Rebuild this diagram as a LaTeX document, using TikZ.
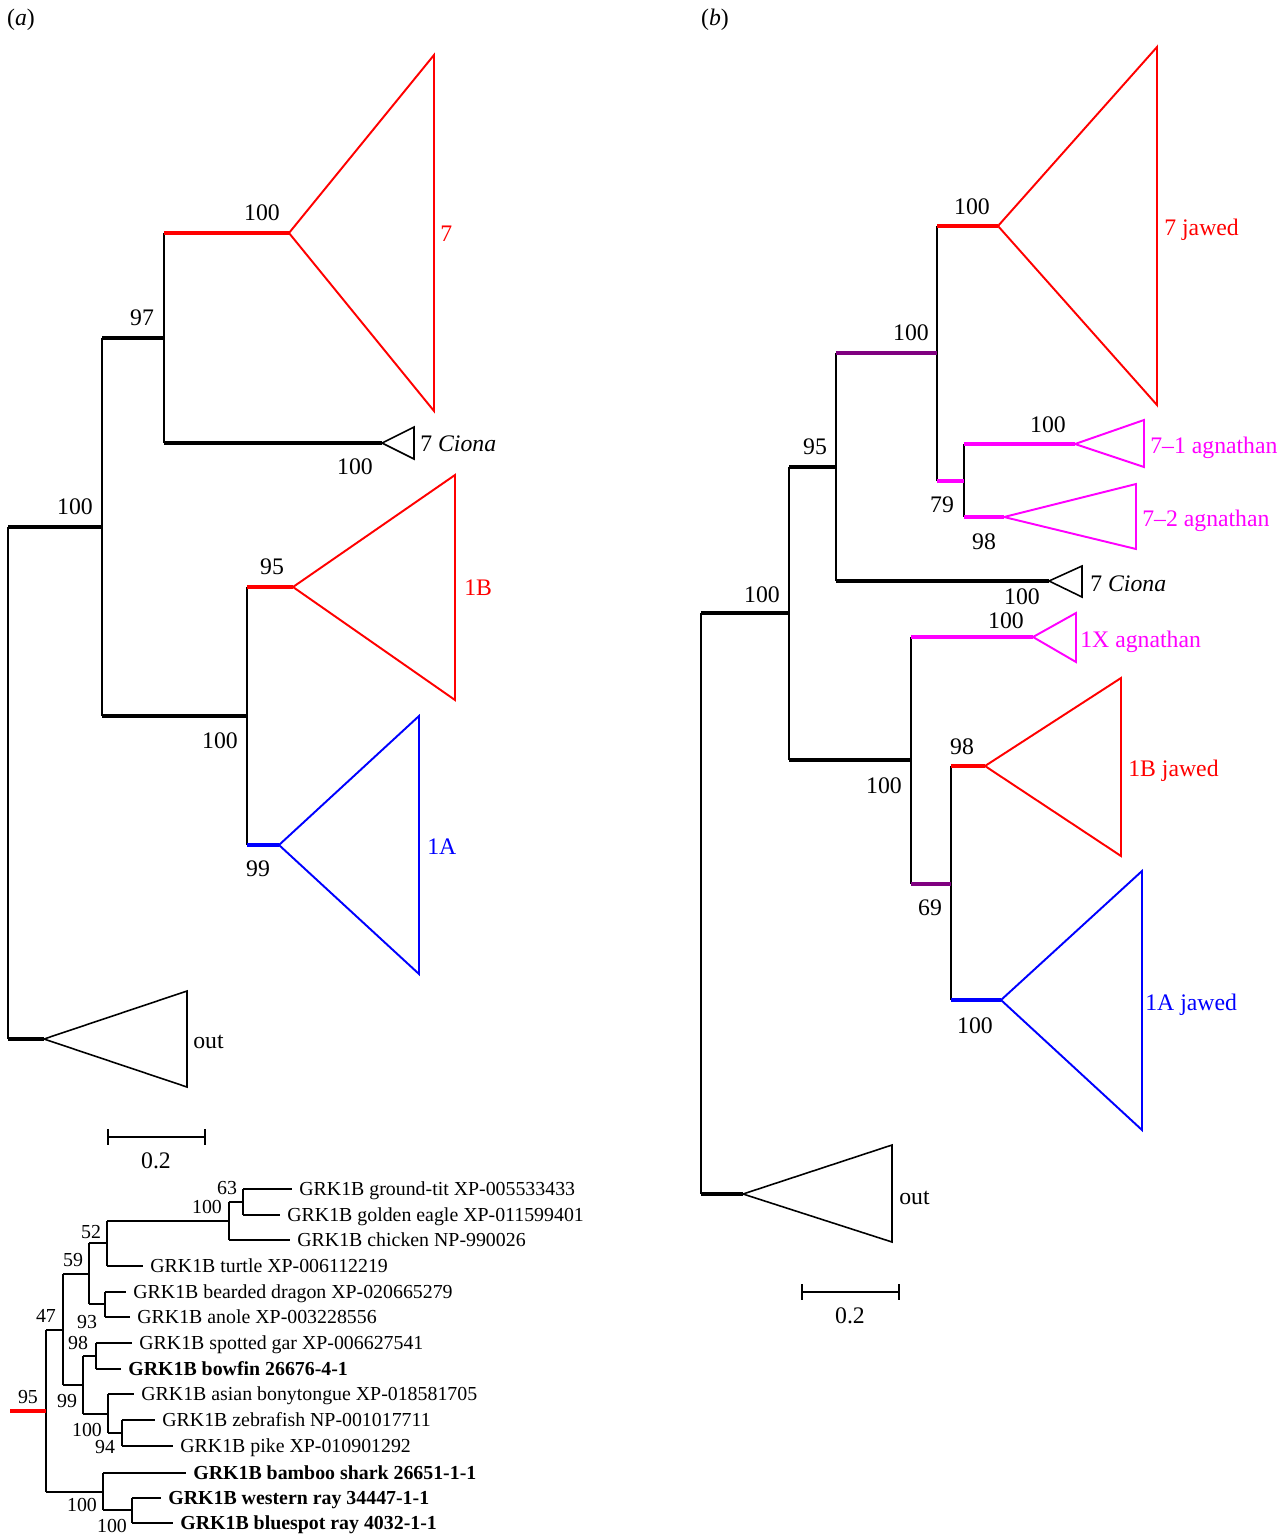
\documentclass[tikz,border=0pt]{standalone}
\usepackage{fontspec}
\setmainfont{Liberation Serif}
\definecolor{deeppurple}{RGB}{128,0,128}
\definecolor{agnpink}{RGB}{255,0,255}

\begin{document}
\begin{tikzpicture}[x=0.02cm, y=-0.02cm, font=\fontsize{13.5}{16}\selectfont,
    br/.style={line width=2.5pt},
    stem/.style={line width=1.1pt},
    clade/.style={line width=1.1pt, line join=miter},
    bs/.style={inner sep=0pt},
    tip/.style={inner sep=0pt, anchor=west, text height=9pt, text depth=0pt},
    twig/.style={line width=0.7pt},
    leaf/.style={font=\fontsize{11.3}{13}\selectfont, anchor=west, inner xsep=4pt,
                 inner ysep=0pt, text height=7.5pt, text depth=0pt},
    sbs/.style={font=\fontsize{11.3}{13}\selectfont, inner sep=0pt}]

  \useasboundingbox (0,0) rectangle (1288,1535);

  % Panel letters
  \node (labA) at (21,20) {(\textit{a})};
  \node (labB) at (715,20) {(\textit{b})};

  % ================= (a) =================
  \coordinate (aR)   at (8,783);     % root
  \coordinate (aIn)  at (102,527);   % ingroup
  \coordinate (a97)  at (164,338);
  \coordinate (a7)   at (289,233);   % apex 7
  \coordinate (aCi)  at (382,443);   % apex 7 Ciona
  \coordinate (a1)   at (247,716);
  \coordinate (a1B)  at (293,587);
  \coordinate (a1A)  at (279,845);
  \coordinate (aOut) at (44,1039);

  % --- verticals ---
  \draw[stem] (aR |- aIn) -- (aR |- aOut);
  \draw[stem] (aIn |- a97) -- (aIn |- a1);
  \draw[stem] (a97 |- a7) -- (a97 |- aCi);
  \draw[stem] (a1 |- a1B) -- (a1 |- a1A);

  % --- branches ---
  \draw[br] (aR |- aIn) -- (aIn);
  \draw[br] (aR |- aOut) -- (aOut);
  \draw[br] (aIn |- a97) -- (a97);
  \draw[br] (aIn |- a1) -- (a1);
  \draw[br, red] (a97 |- a7) -- (a7);
  \draw[line width=2pt] (a97 |- aCi) -- (aCi);
  \draw[br, red] (a1 |- a1B) -- (a1B);
  \draw[br, blue] (a1 |- a1A) -- (a1A);

  % --- collapsed clades ---
  \draw[clade, red]  (a7) -- (434,55) -- (434,411) -- cycle;
  \draw[clade, line width=0.9pt] (aCi) -- (414,427) -- (414,459) -- cycle;
  \draw[clade, red]  (a1B) -- (455,475) -- (455,700) -- cycle;
  \draw[clade, blue] (a1A) -- (419,716) -- (419,974) -- cycle;
  \draw[clade, line width=0.9pt] (aOut) -- (187,991) -- (187,1087) -- cycle;

  \node[tip, red]  (t7)    at (440,234) {7};
  \node[tip]       (tCiA)  at (420,444) {7 \textit{Ciona}};
  \node[tip, red]  (t1B)   at (464,588) {1B};
  \node[tip, blue] (t1A)   at (427,847) {1A};
  \node[tip]       (tOutA) at (193,1041) {out};

  % --- support values ---
  \node[bs] (vaIn)  at (75,507)  {100};
  \node[bs] (va97)  at (142,318) {97};
  \node[bs] (va7)   at (262,213) {100};
  \node[bs] (vaCi)  at (355,467) {100};
  \node[bs] (va1B)  at (272,567) {95};
  \node[bs] (va1)   at (220,741) {100};
  \node[bs] (va1A)  at (258,869) {99};

  % --- scale bar ---
  \draw[stem] (108,1129) -- (108,1145) (205,1129) -- (205,1145) (108,1137) -- (205,1137);
  \node (sbA) at (156,1161) {0.2};

  % ================= (b) =================
  \coordinate (bR)   at (701,900);   % root
  \coordinate (bIn)  at (789,613);
  \coordinate (b95)  at (836,467);
  \coordinate (bP)   at (937,353);   % purple 100
  \coordinate (b7j)  at (998,226);   % apex 7 jawed
  \coordinate (b79)  at (964,481);
  \coordinate (b71)  at (1075,444);
  \coordinate (b72)  at (1004,517);
  \coordinate (bCi)  at (1049,581);
  \coordinate (b1)   at (911,760);
  \coordinate (b1X)  at (1033,637);
  \coordinate (b69)  at (951,884);
  \coordinate (b1B)  at (985,766);
  \coordinate (b1A)  at (1001,1000);
  \coordinate (bOut) at (743,1194);

  % --- verticals ---
  \draw[stem] (bR |- bIn) -- (bR |- bOut);
  \draw[stem] (bIn |- b95) -- (bIn |- b1);
  \draw[stem] (b95 |- bP) -- (b95 |- bCi);
  \draw[stem] (bP |- b7j) -- (bP |- b79);
  \draw[stem] (b79 |- b71) -- (b79 |- b72);
  \draw[stem] (b1 |- b1X) -- (b1 |- b69);
  \draw[stem] (b69 |- b1B) -- (b69 |- b1A);

  % --- branches ---
  \draw[br] (bR |- bIn) -- (bIn);
  \draw[br] (bR |- bOut) -- (bOut);
  \draw[br] (bIn |- b95) -- (b95);
  \draw[br] (bIn |- b1) -- (b1);
  \draw[br, deeppurple] (b95 |- bP) -- (bP);
  \draw[line width=2pt] (b95 |- bCi) -- (bCi);
  \draw[br, red] (bP |- b7j) -- (b7j);
  \draw[br, agnpink] (bP |- b79) -- (b79);
  \draw[br, agnpink] (b79 |- b71) -- (b71);
  \draw[br, agnpink] (b79 |- b72) -- (b72);
  \draw[br, agnpink] (b1 |- b1X) -- (b1X);
  \draw[br, deeppurple] (b1 |- b69) -- (b69);
  \draw[br, red] (b69 |- b1B) -- (b1B);
  \draw[br, blue] (b69 |- b1A) -- (b1A);

  % --- collapsed clades ---
  \draw[clade, red]     (b7j) -- (1157,47) -- (1157,405) -- cycle;
  \draw[clade, agnpink] (b71) -- (1144,420) -- (1144,467) -- cycle;
  \draw[clade, agnpink] (b72) -- (1136,484) -- (1136,549) -- cycle;
  \draw[clade, line width=0.9pt] (bCi) -- (1082,566) -- (1082,597) -- cycle;
  \draw[clade, agnpink] (b1X) -- (1076,613) -- (1076,662) -- cycle;
  \draw[clade, red]     (b1B) -- (1121,678) -- (1121,856) -- cycle;
  \draw[clade, blue]    (b1A) -- (1142,871) -- (1142,1130) -- cycle;
  \draw[clade, line width=0.9pt] (bOut) -- (892,1145) -- (892,1242) -- cycle;

  \node[tip, red]     (t7j)   at (1164,228) {7 jawed};
  \node[tip, agnpink] (t71)   at (1150,446) {7--1 agnathan};
  \node[tip, agnpink] (t72)   at (1142,519) {7--2 agnathan};
  \node[tip]          (tCiB)  at (1090,584) {7 \textit{Ciona}};
  \node[tip, agnpink] (t1X)   at (1080,640) {1X agnathan};
  \node[tip, red]     (t1Bj)  at (1128,769) {1B jawed};
  \node[tip, blue]    (t1Aj)  at (1145,1003) {1A jawed};
  \node[tip]          (tOutB) at (899,1197) {out};

  % --- support values ---
  \node[bs] (vbIn) at (762,595)  {100};
  \node[bs] (vb95) at (815,447)  {95};
  \node[bs] (vbP)  at (911,333)  {100};
  \node[bs] (vb7j) at (972,207)  {100};
  \node[bs] (vb79) at (942,505)  {79};
  \node[bs] (vb71) at (1048,425) {100};
  \node[bs] (vb72) at (984,542)  {98};
  \node[bs] (vbCi) at (1022,597) {100};
  \node[bs] (vb1X) at (1006,621) {100};
  \node[bs] (vb1)  at (884,786)  {100};
  \node[bs] (vb1B) at (962,747)  {98};
  \node[bs] (vb69) at (930,908)  {69};
  \node[bs] (vb1A) at (975,1026) {100};

  % --- scale bar ---
  \draw[stem] (802,1284) -- (802,1300) (899,1284) -- (899,1300) (802,1292) -- (899,1292);
  \node (sbB) at (850,1316) {0.2};

  % ================= GRK1B subtree =================
  \coordinate (sR)    at (46,1411);
  \coordinate (sStem) at (10,1411);
  \coordinate (s47)   at (63,1330);
  \coordinate (s59)   at (89,1274);
  \coordinate (s52)   at (107,1243);
  \coordinate (s100b) at (229,1221);
  \coordinate (s63)   at (243,1202);
  \coordinate (s93)   at (105,1304);
  \coordinate (s99)   at (83,1385);
  \coordinate (s98)   at (96,1356);
  \coordinate (s100t) at (108,1414);
  \coordinate (s94)   at (122,1433);
  \coordinate (sCart) at (103,1492);
  \coordinate (sRay)  at (132,1510);

  \node[leaf] (lTit)    at (292,1189) {GRK1B ground-tit XP-005533433};
  \node[leaf] (lEagle)  at (280,1215) {GRK1B golden eagle XP-011599401};
  \node[leaf] (lChick)  at (290,1240) {GRK1B chicken NP-990026};
  \node[leaf] (lTurtle) at (143,1266) {GRK1B turtle XP-006112219};
  \node[leaf] (lDragon) at (126,1292) {GRK1B bearded dragon XP-020665279};
  \node[leaf] (lAnole)  at (130,1317) {GRK1B anole XP-003228556};
  \node[leaf] (lGar)    at (132,1343) {GRK1B spotted gar XP-006627541};
  \node[leaf] (lBowfin) at (121,1369) {\textbf{GRK1B bowfin 26676-4-1}};
  \node[leaf] (lBony)   at (134,1394) {GRK1B asian bonytongue XP-018581705};
  \node[leaf] (lZebra)  at (155,1420) {GRK1B zebrafish NP-001017711};
  \node[leaf] (lPike)   at (173,1446) {GRK1B pike XP-010901292};
  \node[leaf] (lShark)  at (186,1473) {\textbf{GRK1B bamboo shark 26651-1-1}};
  \node[leaf] (lWest)   at (161,1498) {\textbf{GRK1B western ray 34447-1-1}};
  \node[leaf] (lBlue)   at (173,1523) {\textbf{GRK1B bluespot ray 4032-1-1}};

  % --- verticals ---
  \draw[twig] (sR |- s47) -- (sR |- sCart);
  \draw[twig] (s47 |- s59) -- (s47 |- s99);
  \draw[twig] (s59 |- s52) -- (s59 |- s93);
  \draw[twig] (s52 |- s100b) -- (s52 |- lTurtle);
  \draw[twig] (s100b |- s63) -- (s100b |- lChick);
  \draw[twig] (s63 |- lTit) -- (s63 |- lEagle);
  \draw[twig] (s93 |- lDragon) -- (s93 |- lAnole);
  \draw[twig] (s99 |- s98) -- (s99 |- s100t);
  \draw[twig] (s98 |- lGar) -- (s98 |- lBowfin);
  \draw[twig] (s100t |- lBony) -- (s100t |- s94);
  \draw[twig] (s94 |- lZebra) -- (s94 |- lPike);
  \draw[twig] (sCart |- lShark) -- (sCart |- sRay);
  \draw[twig] (sRay |- lWest) -- (sRay |- lBlue);

  % --- branches ---
  \draw[red, line width=1.8pt] (sStem) -- (sR);
  \draw[twig] (sR |- s47) -- (s47);
  \draw[twig] (sR |- sCart) -- (sCart);
  \draw[twig] (s47 |- s59) -- (s59);
  \draw[twig] (s47 |- s99) -- (s99);
  \draw[twig] (s59 |- s52) -- (s52);
  \draw[twig] (s59 |- s93) -- (s93);
  \draw[twig] (s52 |- s100b) -- (s100b);
  \draw[twig] (s52 |- lTurtle) -- (lTurtle.west);
  \draw[twig] (s100b |- s63) -- (s63);
  \draw[twig] (s100b |- lChick) -- (lChick.west);
  \draw[twig] (s63 |- lTit) -- (lTit.west);
  \draw[twig] (s63 |- lEagle) -- (lEagle.west);
  \draw[twig] (s93 |- lDragon) -- (lDragon.west);
  \draw[twig] (s93 |- lAnole) -- (lAnole.west);
  \draw[twig] (s99 |- s98) -- (s98);
  \draw[twig] (s99 |- s100t) -- (s100t);
  \draw[twig] (s98 |- lGar) -- (lGar.west);
  \draw[twig] (s98 |- lBowfin) -- (lBowfin.west);
  \draw[twig] (s100t |- lBony) -- (lBony.west);
  \draw[twig] (s100t |- s94) -- (s94);
  \draw[twig] (s94 |- lZebra) -- (lZebra.west);
  \draw[twig] (s94 |- lPike) -- (lPike.west);
  \draw[twig] (sCart |- lShark) -- (lShark.west);
  \draw[twig] (sCart |- sRay) -- (sRay);
  \draw[twig] (sRay |- lWest) -- (lWest.west);
  \draw[twig] (sRay |- lBlue) -- (lBlue.west);

  % --- support values ---
  \node[sbs] (vs95)  at (28,1397)  {95};
  \node[sbs] (vs47)  at (46,1316)  {47};
  \node[sbs] (vs59)  at (73,1260)  {59};
  \node[sbs] (vs52)  at (91,1232)  {52};
  \node[sbs] (vs100b) at (207,1207) {100};
  \node[sbs] (vs63)  at (227,1188) {63};
  \node[sbs] (vs93)  at (87,1322)  {93};
  \node[sbs] (vs98)  at (78,1343)  {98};
  \node[sbs] (vs99)  at (67,1401)  {99};
  \node[sbs] (vs100t) at (87,1430) {100};
  \node[sbs] (vs94)  at (105,1447) {94};
  \node[sbs] (vsCart) at (82,1505) {100};
  \node[sbs] (vsRay) at (112,1526) {100};

\end{tikzpicture}
\end{document}
